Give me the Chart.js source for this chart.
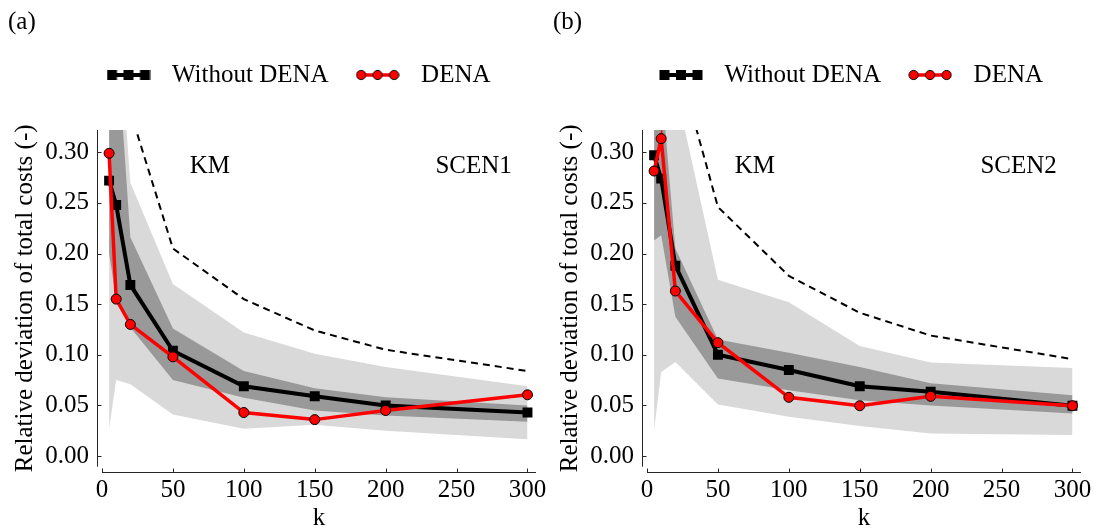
<!DOCTYPE html>
<html lang="en">
<head>
<meta charset="UTF-8">
<title>Relative deviation of total costs vs k</title>
<script src="https://cdn.jsdelivr.net/npm/chart.js@4"></script>
<style>
    body {
        margin: 0;
        background: #fff;
        width: 1099px;
        height: 532px;
        overflow: hidden;
        position: relative;
    }
    canvas { position: absolute; top: 0; }
    #panelA { left: 0; }
    #panelB { left: 545px; }
</style>
</head>
<body>
<canvas id="panelA" width="553" height="532"></canvas>
<canvas id="panelB" width="554" height="532"></canvas>
<script>
// shared axes
const kValues = [5, 10, 20, 50, 100, 150, 200, 300];
const xTicks = [0, 50, 100, 150, 200, 250, 300];
const yTicks = [0, 0.05, 0.10, 0.15, 0.20, 0.25, 0.30];

// (a) SCEN1
const withoutDenaA = [0.272, 0.248, 0.169, 0.104, 0.069, 0.059, 0.050, 0.043];
const denaA        = [0.299, 0.155, 0.130, 0.098, 0.043, 0.036, 0.045, 0.0605];
const dashedA      = [0.60, 0.45, 0.34, 0.205, 0.155, 0.124, 0.105, 0.084];
const darkHiA      = [0.55, 0.42, 0.216, 0.126, 0.084, 0.067, 0.058, 0.050];
const darkLoA      = [0.20, 0.155, 0.127, 0.075, 0.0575, 0.045, 0.040, 0.034];
const lightHiA     = [0.60, 0.46, 0.27, 0.170, 0.122, 0.101, 0.088, 0.069];
const lightLoA     = [0.027, 0.075, 0.071, 0.041, 0.027, 0.031, 0.025, 0.0165];

// (b) SCEN2
const withoutDenaB = [0.297, 0.274, 0.188, 0.100, 0.085, 0.069, 0.0635, 0.0497];
const denaB        = [0.2815, 0.3135, 0.163, 0.112, 0.058, 0.0497, 0.059, 0.0497];
const dashedB      = [0.70, 0.55, 0.398, 0.246, 0.178, 0.1415, 0.119, 0.0957];
const darkHiB      = [0.45, 0.37, 0.205, 0.115, 0.102, 0.088, 0.072, 0.060];
const darkLoB      = [0.213, 0.218, 0.1375, 0.0767, 0.065, 0.055, 0.050, 0.042];
const lightHiB     = [0.60, 0.50, 0.365, 0.174, 0.152, 0.1086, 0.0925, 0.087];
const lightLoB     = [0.0257, 0.083, 0.093, 0.051, 0.0388, 0.0296, 0.0224, 0.0207];

// text positions (data coords)
const kmPos = [76, 0.286];
const scenPos = [262, 0.286];

Chart.defaults.font.family = '"Liberation Serif", serif';
Chart.defaults.font.size = 25;
Chart.defaults.color = '#000';
Chart.defaults.animation = false;

const pts = arr => kValues.map((k, i) => ({x: k, y: arr[i]}));

// legend handles: line with three markers
function makeHandle(kind) {
    const c = document.createElement('canvas');
    c.width = 44; c.height = 14;
    const g = c.getContext('2d');
    const xs = [5.5, 22, 38.5];
    if (kind === 'square') {
        g.fillStyle = '#000';
        g.fillRect(2, 5, 40, 4);
        xs.forEach(x => g.fillRect(x - 5, 2, 10, 10));
    } else {
        g.strokeStyle = '#ff0000';
        g.lineWidth = 3.5;
        g.beginPath(); g.moveTo(4, 7); g.lineTo(40, 7); g.stroke();
        g.fillStyle = '#ff0000';
        g.strokeStyle = '#000';
        g.lineWidth = 1;
        xs.forEach(x => { g.beginPath(); g.arc(x, 7, 4.6, 0, Math.PI * 2); g.fill(); g.stroke(); });
    }
    return c;
}
const squareHandle = makeHandle('square');
const circleHandle = makeHandle('circle');

const axisDecor = {
    id: 'axisDecor',
    afterDraw(chart, args, opts) {
        const {ctx, chartArea: a, scales: {x, y}} = chart;
        ctx.save();
        ctx.strokeStyle = '#262626';
        ctx.lineWidth = 1;
        const sx = Math.round(a.left - 5) + 0.5;
        const sy = Math.round(a.bottom + 5) + 0.5;
        ctx.beginPath();
        ctx.moveTo(sx, a.top); ctx.lineTo(sx, a.bottom);
        ctx.moveTo(a.left, sy); ctx.lineTo(a.right, sy);
        y.ticks.forEach(t => {
            const p = Math.round(y.getPixelForValue(t.value)) + 0.5;
            ctx.moveTo(sx, p); ctx.lineTo(sx + 4, p);
        });
        x.ticks.forEach(t => {
            const p = Math.round(x.getPixelForValue(t.value)) + 0.5;
            ctx.moveTo(p, sy); ctx.lineTo(p, sy - 4);
        });
        ctx.stroke();

        ctx.fillStyle = '#000';
        ctx.font = '25px "Liberation Serif", serif';
        ctx.textAlign = 'center';
        ctx.textBaseline = 'middle';
        ctx.fillText('KM', x.getPixelForValue(kmPos[0]), y.getPixelForValue(kmPos[1]));
        ctx.fillText(opts.scen, x.getPixelForValue(scenPos[0]), y.getPixelForValue(scenPos[1]));
        ctx.textAlign = 'left';
        ctx.fillText(opts.label, 8, 22);
        ctx.restore();
    }
};

// move the legend row to where the figure has it
const legendShift = {
    id: 'legendShift',
    afterLayout(chart, args, opts) {
        const lg = chart.legend;
        const w = lg.right - lg.left, h = lg.bottom - lg.top;
        lg.left = opts.left; lg.right = opts.left + w;
        lg.top = opts.top; lg.bottom = opts.top + h;
    }
};

function makePanel(id, s, o) {
    return new Chart(document.getElementById(id), {
        type: 'line',
        data: {
            datasets: [
                { label: 'DENA', data: pts(s.dena), order: 0, borderColor: '#ff0000', borderWidth: 3.5,
                  pointStyle: 'circle', pointRadius: 5, pointBackgroundColor: '#ff0000',
                  pointBorderColor: '#000', pointBorderWidth: 1, fill: false },
                { label: 'Without DENA', data: pts(s.without), order: 1, borderColor: '#000', borderWidth: 4,
                  pointStyle: 'rect', pointRadius: 7, pointBackgroundColor: '#000',
                  pointBorderColor: '#000', pointBorderWidth: 0, fill: false },
                { label: 'ref', data: pts(s.dashed), order: 2, borderColor: '#000', borderWidth: 2,
                  borderDash: [7, 5], pointRadius: 0, fill: false },
                { label: 'darkHi', data: pts(s.darkHi), order: 3, borderWidth: 0, pointRadius: 0,
                  backgroundColor: '#999999', fill: {target: 4} },
                { label: 'darkLo', data: pts(s.darkLo), order: 4, borderWidth: 0, pointRadius: 0, fill: false },
                { label: 'lightHi', data: pts(s.lightHi), order: 5, borderWidth: 0, pointRadius: 0,
                  backgroundColor: '#d9d9d9', fill: {target: 6} },
                { label: 'lightLo', data: pts(s.lightLo), order: 6, borderWidth: 0, pointRadius: 0, fill: false }
            ]
        },
        options: {
            responsive: false,
            events: [],
            layout: { padding: { top: 77, left: 0, right: o.padRight, bottom: 0 } },
            elements: { line: { tension: 0 } },
            scales: {
                x: {
                    type: 'linear', min: 0, max: 306,
                    grid: { display: false, drawTicks: false },
                    border: { display: false },
                    afterBuildTicks: sc => { sc.ticks = xTicks.map(v => ({value: v})); },
                    afterFit: sc => { sc.height = 532 - 466.7; sc.paddingLeft = 0; sc.paddingRight = 0; },
                    ticks: { padding: 9, callback: v => String(v) },
                    title: { display: true, text: 'k', font: { size: 25, lineHeight: 1 }, padding: { top: 0, bottom: 1 } }
                },
                y: {
                    min: -0.0105, max: 0.322,
                    grid: { display: false, drawTicks: false },
                    border: { display: false },
                    afterBuildTicks: sc => { sc.ticks = yTicks.map(v => ({value: v})); },
                    afterFit: sc => { sc.width = 102; sc.paddingTop = 0; sc.paddingBottom = 0; },
                    ticks: { padding: 13, callback: v => v.toFixed(2) },
                    title: { display: true, text: 'Relative deviation of total costs (-)', padding: { top: 10, bottom: 0 } }
                }
            },
            plugins: {
                tooltip: { enabled: false },
                legend: {
                    position: 'top',
                    align: 'start',
                    labels: {
                        usePointStyle: true,
                        pointStyleWidth: 62,
                        padding: 18,
                        font: { size: 25 },
                        generateLabels: () => [
                            { text: 'Without DENA', pointStyle: squareHandle, fontColor: '#000', lineWidth: 0, hidden: false, datasetIndex: 1 },
                            { text: 'DENA', pointStyle: circleHandle, fontColor: '#000', lineWidth: 0, hidden: false, datasetIndex: 0 }
                        ]
                    }
                },
                legendShift: { left: o.legendLeft, top: 44.5 },
                axisDecor: { label: o.label, scen: o.scen }
            }
        },
        plugins: [legendShift, axisDecor]
    });
}

makePanel('panelA',
    { without: withoutDenaA, dena: denaA, dashed: dashedA, darkHi: darkHiA, darkLo: darkLoA, lightHi: lightHiA, lightLo: lightLoA },
    { label: '(a)', scen: 'SCEN1', legendLeft: 79.5, padRight: 17 });
makePanel('panelB',
    { without: withoutDenaB, dena: denaB, dashed: dashedB, darkHi: darkHiB, darkLo: darkLoB, lightHi: lightHiB, lightLo: lightLoB },
    { label: '(b)', scen: 'SCEN2', legendLeft: 87, padRight: 18 });
</script>
</body>
</html>
